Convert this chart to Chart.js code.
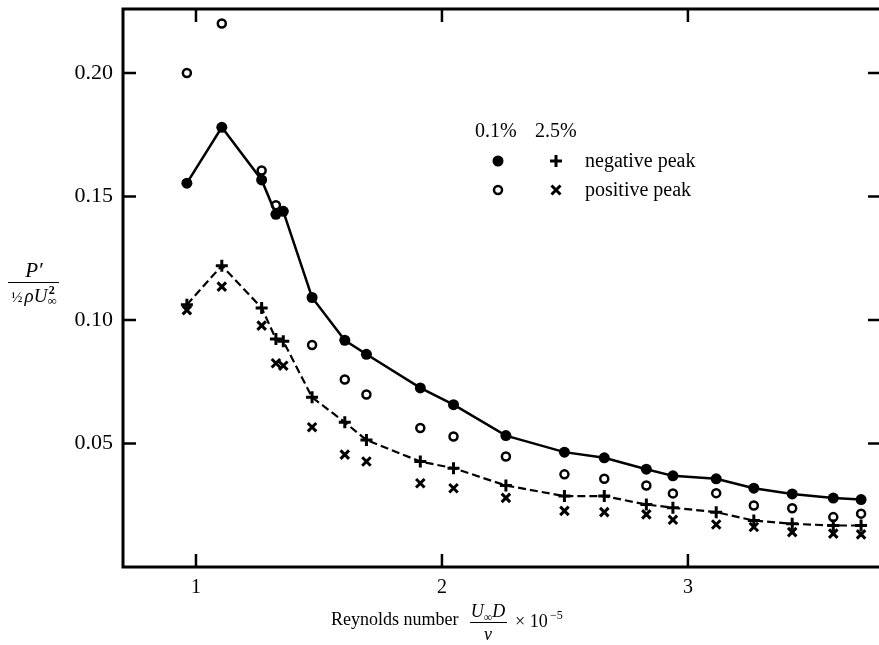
<!DOCTYPE html>
<html>
<head>
<meta charset="utf-8">
<script src="https://cdn.jsdelivr.net/npm/chart.js@4.4.1/dist/chart.umd.min.js"></script>
<style>
  html, body { margin: 0; padding: 0; background: #fff; overflow: hidden; width: 879px; height: 645px; }
  #wrap { position: relative; width: 890px; height: 645px; }
  canvas { display: block; }
</style>
</head>
<body>
<div id="wrap"><canvas id="c" width="890" height="645"></canvas></div>
<script>
// Reynolds number (x 10^-5) of each run
const reynolds = [0.963, 1.105, 1.267, 1.325, 1.355, 1.472, 1.605, 1.693, 1.912, 2.047,
                  2.260, 2.498, 2.660, 2.831, 2.939, 3.115, 3.268, 3.424, 3.591, 3.704];

// Peak pressure coefficients, 0.1 % turbulence
const negPeakLow = [0.1554, 0.1780, 0.1567, 0.1428, 0.1440, 0.1091, 0.0918, 0.0861, 0.0725, 0.0657,
                    0.0532, 0.0465, 0.0442, 0.0396, 0.0369, 0.0357, 0.0319, 0.0296, 0.0279, 0.0273];
const posPeakLow = [0.2000, 0.2200, 0.1605, 0.1465, null, 0.0899, 0.0759, 0.0698, 0.0563, 0.0528,
                    0.0447, 0.0375, 0.0357, 0.0330, 0.0298, 0.0299, 0.0249, 0.0238, 0.0202, 0.0216];

// Peak pressure coefficients, 2.5 % turbulence
const negPeakHigh = [0.1062, 0.1220, 0.1049, 0.0923, 0.0914, 0.0687, 0.0586, 0.0514, 0.0427, 0.0400,
                     0.0330, 0.0287, 0.0287, 0.0253, 0.0240, 0.0222, 0.0188, 0.0175, 0.0168, 0.0168];
const posPeakHigh = [0.1040, 0.1135, 0.0977, 0.0825, 0.0815, 0.0566, 0.0455, 0.0427, 0.0339, 0.0319,
                     0.0280, 0.0227, 0.0222, 0.0213, 0.0191, 0.0172, 0.0162, 0.0141, 0.0135, 0.0132];

const xTicks = [1, 2, 3];
const yTicks = [0.05, 0.10, 0.15, 0.20];

const SERIF = '"Liberation Serif", "DejaVu Serif", serif';

function points(ys) {
  const out = [];
  ys.forEach((y, i) => { if (y !== null) out.push({ x: reynolds[i], y: y }); });
  return out;
}

// Frame and inward ticks on all four sides
const framePlugin = {
  id: 'frame',
  beforeDatasetsDraw(chart) {
    const { ctx, chartArea: a, scales: { x, y } } = chart;
    ctx.save();
    ctx.strokeStyle = '#000';
    ctx.lineWidth = 3;
    ctx.strokeRect(a.left, a.top, a.right - a.left, a.bottom - a.top);
    ctx.lineWidth = 2.5;
    ctx.beginPath();
    xTicks.forEach(v => {
      const px = x.getPixelForValue(v);
      ctx.moveTo(px, a.bottom); ctx.lineTo(px, a.bottom - 13);
      ctx.moveTo(px, a.top); ctx.lineTo(px, a.top + 13);
    });
    yTicks.forEach(v => {
      const py = y.getPixelForValue(v);
      ctx.moveTo(a.left, py); ctx.lineTo(a.left + 13, py);
      ctx.moveTo(a.right, py); ctx.lineTo(a.right - 13, py);
    });
    ctx.stroke();
    ctx.restore();
  }
};

// Draw a run of text pieces, centred on cx
function drawRuns(ctx, runs, cx, baseline) {
  let w = 0;
  runs.forEach(r => { ctx.font = r.font; r.w = ctx.measureText(r.t).width; w += r.w + (r.gap || 0); });
  let xx = cx - w / 2;
  runs.forEach(r => {
    ctx.font = r.font;
    ctx.textAlign = 'left';
    ctx.textBaseline = 'alphabetic';
    ctx.fillText(r.t, xx, baseline + (r.dy || 0));
    xx += r.w + (r.gap || 0);
  });
  return w;
}

function drawMark(ctx, style, x, y) {
  ctx.save();
  ctx.strokeStyle = '#000';
  ctx.fillStyle = '#000';
  ctx.lineCap = 'butt';
  if (style === 'dot') {
    ctx.beginPath(); ctx.arc(x, y, 5.5, 0, Math.PI * 2); ctx.fill();
  } else if (style === 'ring') {
    ctx.lineWidth = 2.5;
    ctx.beginPath(); ctx.arc(x, y, 4, 0, Math.PI * 2); ctx.stroke();
  } else if (style === 'plus') {
    ctx.lineWidth = 3;
    ctx.beginPath();
    ctx.moveTo(x - 6, y); ctx.lineTo(x + 6, y);
    ctx.moveTo(x, y - 6); ctx.lineTo(x, y + 6);
    ctx.stroke();
  } else {
    ctx.lineWidth = 3;
    ctx.beginPath();
    ctx.moveTo(x - 4.5, y - 4.5); ctx.lineTo(x + 4.5, y + 4.5);
    ctx.moveTo(x + 4.5, y - 4.5); ctx.lineTo(x - 4.5, y + 4.5);
    ctx.stroke();
  }
  ctx.restore();
}

// Axis titles and the key
const textPlugin = {
  id: 'texts',
  afterDraw(chart) {
    const ctx = chart.ctx;
    ctx.save();
    ctx.fillStyle = '#000';

    // y title: P' over (1/2) rho U_inf^2
    drawRuns(ctx, [{ t: 'P′', font: 'italic 21px ' + SERIF }], 34, 277);
    ctx.lineWidth = 1.2;
    ctx.beginPath(); ctx.moveTo(8, 282.5); ctx.lineTo(59, 282.5); ctx.stroke();
    drawRuns(ctx, [
      { t: '½', font: '15px ' + SERIF, gap: 2 },
      { t: 'ρ', font: 'italic 19px ' + SERIF },
      { t: 'U', font: 'italic 19px ' + SERIF },
      { t: '∞', font: '13px ' + SERIF, dy: 3, gap: -8 },
      { t: '2', font: 'bold 12px ' + SERIF, dy: -8 }
    ], 33, 302);

    // x title: Reynolds number (U_inf D / nu) x 10^-5
    ctx.font = '18px ' + SERIF;
    ctx.textAlign = 'left';
    ctx.textBaseline = 'alphabetic';
    ctx.fillText('Reynolds number', 331, 625);
    drawRuns(ctx, [
      { t: 'U', font: 'italic 18px ' + SERIF },
      { t: '∞', font: '12px ' + SERIF, dy: 4, gap: 0 },
      { t: 'D', font: 'italic 18px ' + SERIF }
    ], 488, 617);
    ctx.lineWidth = 1.2;
    ctx.beginPath(); ctx.moveTo(470, 622.5); ctx.lineTo(507, 622.5); ctx.stroke();
    drawRuns(ctx, [{ t: 'ν', font: 'italic 18px ' + SERIF }], 488, 640);
    ctx.font = '18px ' + SERIF;
    ctx.fillText('× 10', 515, 627);
    ctx.font = '12px ' + SERIF;
    ctx.fillText('−5', 550, 619);

    // key
    ctx.font = '20px ' + SERIF;
    ctx.fillText('0.1%', 475, 137);
    ctx.fillText('2.5%', 535, 137);
    drawMark(ctx, 'dot', 498, 161);
    drawMark(ctx, 'plus', 556, 161);
    drawMark(ctx, 'ring', 498, 190);
    drawMark(ctx, 'cross', 556, 190);
    ctx.font = '20px ' + SERIF;
    ctx.fillText('negative peak', 585, 167);
    ctx.fillText('positive peak', 585, 196);
    ctx.restore();
  }
};

new Chart(document.getElementById('c'), {
  type: 'scatter',
  data: {
    datasets: [
      {
        label: '0.1% negative peak',
        data: points(negPeakLow),
        showLine: true,
        borderColor: '#000',
        borderWidth: 2.5,
        backgroundColor: '#000',
        pointStyle: 'circle',
        pointRadius: 5.5,
        pointBorderWidth: 0,
        tension: 0
      },
      {
        label: '0.1% positive peak',
        data: points(posPeakLow),
        showLine: false,
        borderColor: '#000',
        backgroundColor: 'rgba(255,255,255,0)',
        pointStyle: 'circle',
        pointRadius: 4,
        pointBorderWidth: 2.5
      },
      {
        label: '2.5% negative peak',
        data: points(negPeakHigh),
        showLine: true,
        borderColor: '#000',
        borderWidth: 2.2,
        borderDash: [8, 4],
        backgroundColor: '#000',
        pointStyle: 'cross',
        pointRadius: 6,
        pointBorderWidth: 3,
        tension: 0
      },
      {
        label: '2.5% positive peak',
        data: points(posPeakHigh),
        showLine: false,
        borderColor: '#000',
        backgroundColor: '#000',
        pointStyle: 'crossRot',
        pointRadius: 6,
        pointBorderWidth: 3
      }
    ]
  },
  options: {
    responsive: false,
    animation: false,
    devicePixelRatio: 1,
    layout: { padding: { left: 0, top: 8, right: 9, bottom: 0 } },
    plugins: { legend: { display: false }, tooltip: { enabled: false } },
    scales: {
      x: {
        type: 'linear',
        min: 0.7033,
        max: 3.785,
        afterBuildTicks(s) { s.ticks = xTicks.map(v => ({ value: v })); },
        afterFit(s) { s.height = 78; s.paddingLeft = 0; s.paddingRight = 0; },
        grid: { display: false, drawTicks: false },
        border: { display: false },
        ticks: {
          color: '#000',
          padding: 9,
          font: { family: SERIF, size: 20 },
          callback: v => String(v)
        }
      },
      y: {
        type: 'linear',
        min: 0,
        max: 0.2259,
        afterBuildTicks(s) { s.ticks = yTicks.map(v => ({ value: v })); },
        afterFit(s) { s.width = 123; s.paddingTop = 0; s.paddingBottom = 0; },
        grid: { display: false, drawTicks: false },
        border: { display: false },
        ticks: {
          color: '#000',
          padding: 10,
          font: { family: SERIF, size: 22 },
          callback: v => v.toFixed(2)
        }
      }
    }
  },
  plugins: [framePlugin, textPlugin]
});
</script>
</body>
</html>
